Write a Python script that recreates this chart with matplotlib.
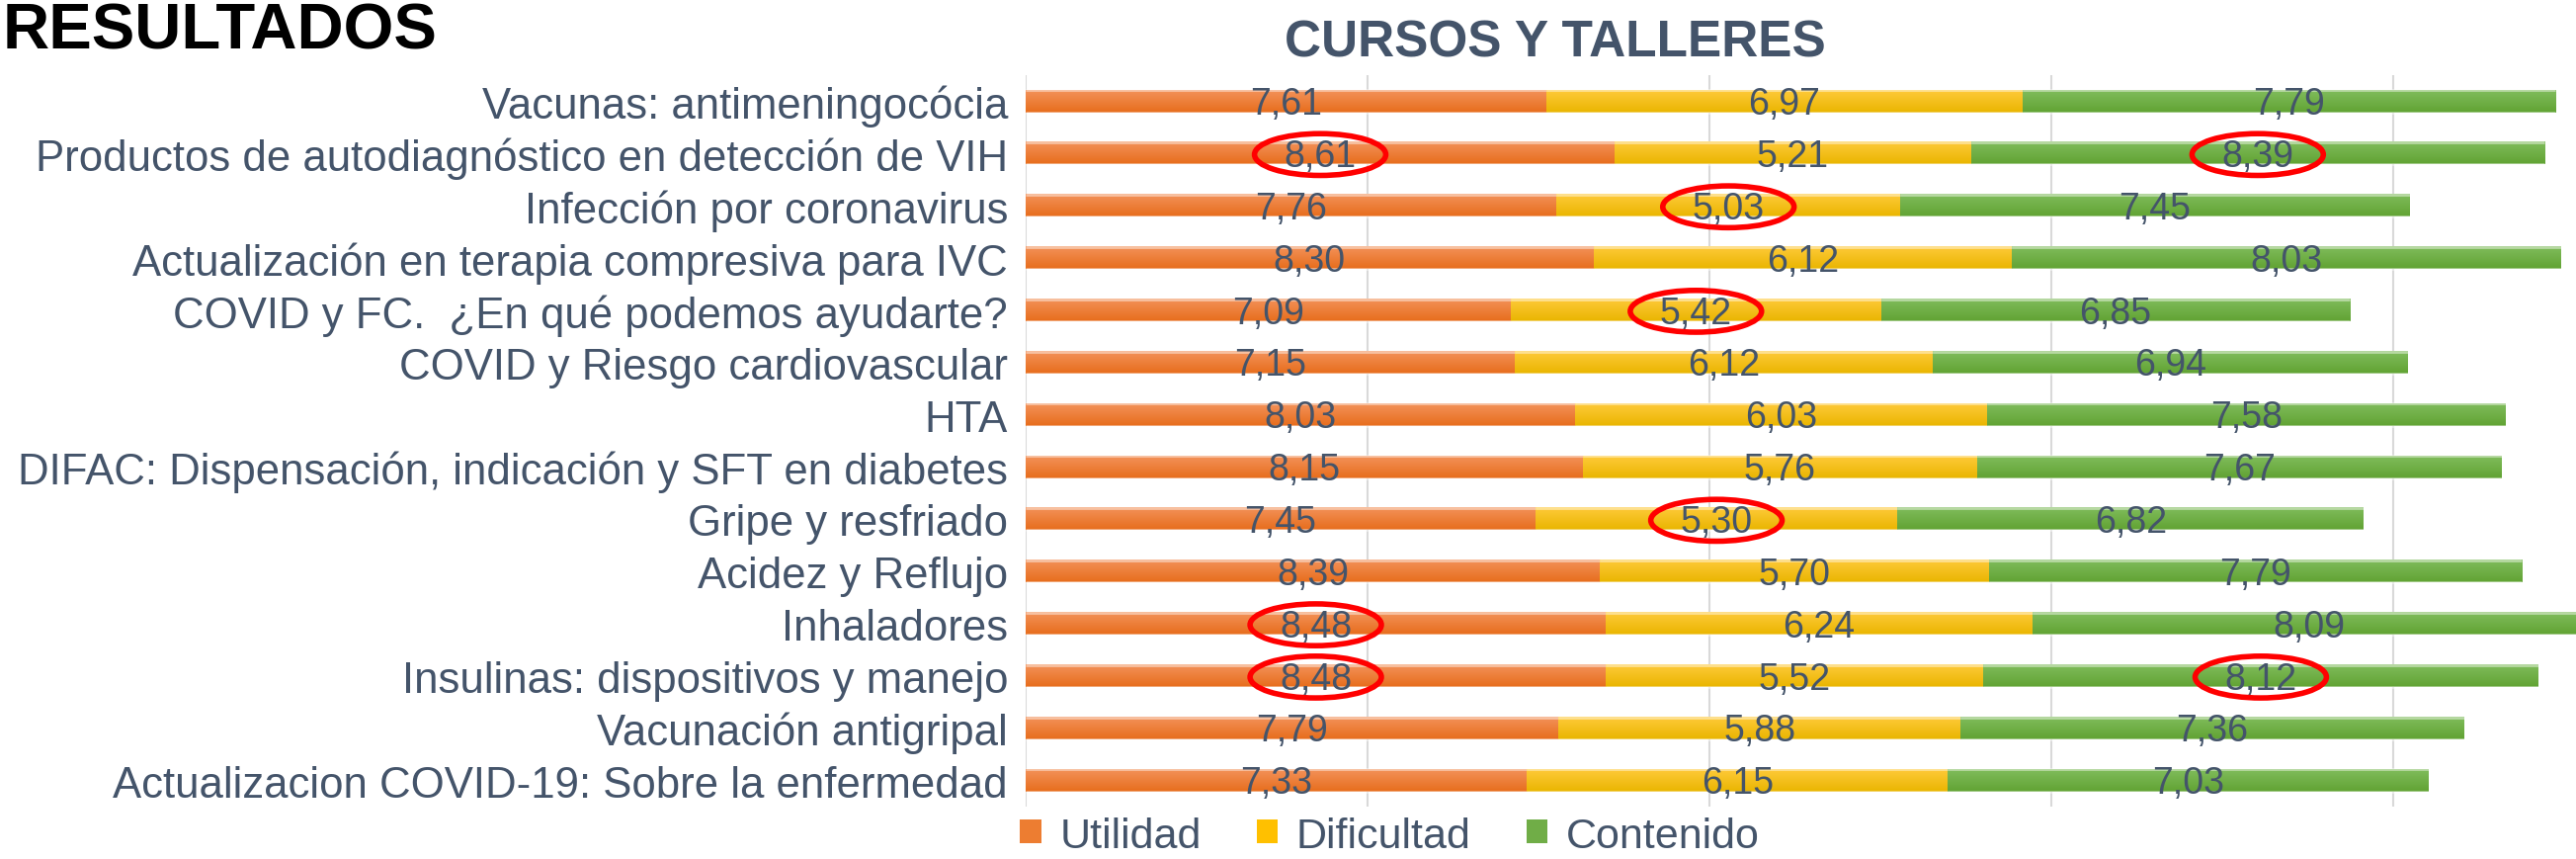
# PYTHON 3.12
import numpy as np
import matplotlib
matplotlib.use("Agg")
import matplotlib.pyplot as plt
from matplotlib.patches import Ellipse, Patch

# ------------------ CONFIG ------------------
plt.rcParams.update({
    "font.family": ["Liberation Sans", "DejaVu Sans"],
    "font.size": 30,
})

TEXT_COLOR = '#44546A'

CATEGORIES = [
    'Vacunas: antimeningocócia',
    'Productos de autodiagnóstico en detección de VIH',
    'Infección por coronavirus',
    'Actualización en terapia compresiva para IVC',
    'COVID y FC.  ¿En qué podemos ayudarte?',
    'COVID y Riesgo cardiovascular',
    'HTA',
    'DIFAC: Dispensación, indicación y SFT en diabetes',
    'Gripe y resfriado',
    'Acidez y Reflujo',
    'Inhaladores',
    'Insulinas: dispositivos y manejo',
    'Vacunación antigripal',
    'Actualizacion COVID-19: Sobre la enfermedad',
]

UTILIDAD = [7.61, 8.61, 7.76, 8.30, 7.09, 7.15, 8.03, 8.15, 7.45, 8.39, 8.48, 8.48, 7.79, 7.33]
DIFICULTAD = [6.97, 5.21, 5.03, 6.12, 5.42, 6.12, 6.03, 5.76, 5.30, 5.70, 6.24, 5.52, 5.88, 6.15]
CONTENIDO = [7.79, 8.39, 7.45, 8.03, 6.85, 6.94, 7.58, 7.67, 6.82, 7.79, 8.09, 8.12, 7.36, 7.03]

SERIES_NAMES = ['Utilidad', 'Dificultad', 'Contenido']

# (row, series) of the values circled in red
HIGHLIGHTS = [(1, 0), (1, 2), (2, 1), (4, 1), (8, 1), (10, 0), (11, 0), (11, 2)]

# gradient (top, bottom) and flat colour for the legend
GRADIENTS = [('#F3925A', '#E76D1C'), ('#FFCA3A', '#E9B500'), ('#80BC5C', '#61A333')]
FLAT = ['#ED7D31', '#FFC000', '#70AD47']

BAR_HEIGHT = 0.42


# ------------------ FUNCTIONS ------------------
def hex_rgb(h):
    h = h.lstrip('#')
    return np.array([int(h[i:i + 2], 16) / 255 for i in (0, 2, 4)])


def gradient_fill(ax, patch, top, bottom):
    # paint a vertical gradient over a bar patch
    x0, y0 = patch.get_x(), patch.get_y()
    w, h = patch.get_width(), patch.get_height()
    t = np.linspace(0, 1, 64)[:, None, None]
    img = hex_rgb(top)[None, None, :] * (1 - t) + hex_rgb(bottom)[None, None, :] * t
    # y axis is inverted: smaller y is visually on top
    ax.imshow(img, extent=(x0, x0 + w, y0 + h, y0), aspect='auto',
              interpolation='bilinear', origin='upper', zorder=2)


def create_plot():
    fig = plt.figure(figsize=(26.07, 8.70), dpi=100)
    ax = fig.add_axes([0.3982, 0.0609, 0.6018, 0.8506])

    values = [UTILIDAD, DIFICULTAD, CONTENIDO]
    y = np.arange(len(CATEGORIES))
    left = np.zeros(len(CATEGORIES))
    centers = []

    for i, vals in enumerate(values):
        vals = np.array(vals)
        bars = ax.barh(y, vals, left=left, height=BAR_HEIGHT, color=FLAT[i],
                       edgecolor='none', zorder=1)
        for b in bars:
            gradient_fill(ax, b, *GRADIENTS[i])
        # light rim at top and bottom of the bars
        ax.hlines(y - BAR_HEIGHT / 2, left, left + vals, color='white', alpha=0.45,
                  linewidth=2, zorder=3)
        ax.hlines(y + BAR_HEIGHT / 2, left, left + vals, color='white', alpha=0.45,
                  linewidth=2, zorder=3)
        mid = left + vals / 2
        centers.append(mid)
        for yy, xx, v in zip(y, mid, vals):
            ax.text(xx, yy + 0.05, f"{v:.2f}".replace('.', ','), ha='center', va='center',
                    fontsize=27, color=TEXT_COLOR, zorder=5)
        left = left + vals

    # red circles around the highlighted values
    for row, s in HIGHLIGHTS:
        ax.add_patch(Ellipse((centers[s][row], row + 0.02), width=1.92, height=0.8,
                             fill=False, edgecolor='#FF0000', linewidth=4, zorder=6))

    ax.set_xlim(0, 22.67)
    ax.set_ylim(len(CATEGORIES) - 0.5, -0.5)
    ax.set_xticks([0, 5, 10, 15, 20])
    ax.set_xticklabels([])
    ax.set_yticks(y)
    ax.set_yticklabels(CATEGORIES, fontsize=31.5, color=TEXT_COLOR)
    ax.tick_params(axis='both', length=0)
    ax.tick_params(axis='y', pad=13)
    ax.grid(axis='x', color='#D9D9D9', linewidth=1.5, zorder=0)
    ax.set_axisbelow(True)
    for sp in ax.spines.values():
        sp.set_visible(False)

    # titles
    fig.text(1574 / 2607, 1 - 44 / 870, 'CURSOS Y TALLERES', ha='center', va='center',
             fontsize=37, fontweight='bold', color=TEXT_COLOR)
    fig.text(3 / 2607, 1 - 2 / 870, 'RESULTADOS', ha='left', va='top',
             fontsize=47, fontweight='bold', color='black')

    # legend
    handles = [Patch(facecolor=FLAT[i], edgecolor='none') for i in range(3)]
    leg = fig.legend(handles, SERIES_NAMES, loc='center', bbox_to_anchor=(0.5395, 0.027),
                     ncol=3, frameon=False, fontsize=31, handlelength=0.5, handleheight=0.5,
                     handletextpad=0.43, columnspacing=1.3, borderpad=0)
    for t in leg.get_texts():
        t.set_color(TEXT_COLOR)

    fig.savefig('out.png', dpi=100)
    plt.close(fig)


def main():
    create_plot()


if __name__ == "__main__":
    main()
